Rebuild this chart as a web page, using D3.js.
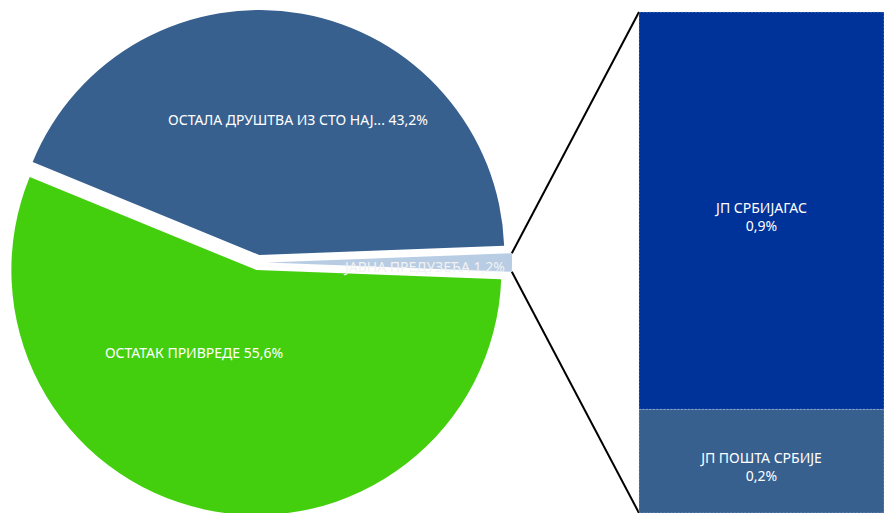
<!DOCTYPE html>
<html>
<head>
<meta charset="utf-8">
<script src="https://cdn.jsdelivr.net/npm/d3@7"></script>
<style>
  html, body { margin: 0; padding: 0; background: #ffffff; }
  svg { display: block; }
  text { font-family: "Noto Sans", "Open Sans", sans-serif; }
</style>
</head>
<body>
<svg id="chart" width="884" height="513"></svg>
<script>
// ---- data ----
const pieCategories = ["ОСТАЛА ДРУШТВА ИЗ СТО НАЈ...", "ЈАВНА ПРЕДУЗЕЋА", "ОСТАТАК ПРИВРЕДЕ"];
const pieValues = [43.2, 1.2, 55.6];
const pieColors = ["#37608F", "#B8CCE4", "#44CF0E"];
const pieExplode = [7.6, 9, 7.7];

const barCategories = ["ЈП ПОШТА СРБИЈЕ", "ЈП СРБИЈАГАС"];
const barValues = [0.24, 0.92];
const barLabels = ["0,2%", "0,9%"];
const barColors = ["#37608F", "#003399"];

// ---- layout ----
const W = 884, H = 513;
const cx = 258, cy = 262.5, R = 245;
const barX0 = 639, barX1 = 884, barTop = 12, barBottom = 513;
const FS = 14;

const svg = d3.select("#chart");
const fmt = v => d3.format(".1f")(v).replace(".", ",") + "%";

const total = d3.sum(pieValues);
const startA = Math.PI / 2 - (pieValues[0] + pieValues[1] / 2) / total * 2 * Math.PI;
const pie = d3.pie().sort(null).value(d => d).startAngle(startA).endAngle(startA + 2 * Math.PI);
const arcs = pie(pieValues);
const arc = d3.arc().innerRadius(0).outerRadius(R);

const gPie = svg.append("g").attr("transform", `translate(${cx},${cy})`);
const off = (d, i) => {
  const a = (d.startAngle + d.endAngle) / 2;
  return [pieExplode[i] * Math.sin(a), -pieExplode[i] * Math.cos(a)];
};

gPie.selectAll("path.slice").data(arcs).join("path")
  .attr("class", "slice")
  .attr("d", arc)
  .attr("fill", (d, i) => pieColors[i])
  .attr("transform", (d, i) => { const o = off(d, i); return `translate(${o[0]},${o[1]})`; });

// connector lines from the split slice to the bar
const sd = arcs[1];
const so = off(sd, 1);
const p1 = [cx + so[0] + R * Math.sin(sd.startAngle), cy + so[1] - R * Math.cos(sd.startAngle)];
const p2 = [cx + so[0] + R * Math.sin(sd.endAngle), cy + so[1] - R * Math.cos(sd.endAngle)];

// bar (stacked)
const y = d3.scaleLinear().domain([0, d3.sum(barValues)]).range([barBottom, barTop]);
const stackData = [];
let acc = 0;
barValues.forEach((v, i) => { stackData.push({ i, y0: acc, y1: acc + v }); acc += v; });

svg.append("line").attr("x1", p1[0]).attr("y1", p1[1]).attr("x2", barX0).attr("y2", y(acc))
  .attr("stroke", "#000").attr("stroke-width", 2);
svg.append("line").attr("x1", p2[0]).attr("y1", p2[1]).attr("x2", barX0).attr("y2", y(0))
  .attr("stroke", "#000").attr("stroke-width", 2);

svg.selectAll("rect.seg").data(stackData).join("rect")
  .attr("class", "seg")
  .attr("x", barX0).attr("width", barX1 - barX0)
  .attr("y", d => y(d.y1)).attr("height", d => y(d.y0) - y(d.y1))
  .attr("fill", d => barColors[d.i])
  .attr("stroke", "rgba(200,215,240,0.55)").attr("stroke-width", 0.8)
  .attr("stroke-dasharray", "2,1.5");

const bx = (barX0 + barX1) / 2;
const gBarLab = svg.selectAll("g.blab").data(stackData).join("g").attr("class", "blab");
gBarLab.append("text")
  .attr("x", bx).attr("y", d => (y(d.y0) + y(d.y1)) / 2 + 2)
  .attr("text-anchor", "middle").attr("fill", "#ffffff").attr("font-size", FS)
  .text(d => barCategories[d.i]);
gBarLab.append("text")
  .attr("x", bx).attr("y", d => (y(d.y0) + y(d.y1)) / 2 + 20)
  .attr("text-anchor", "middle").attr("fill", "#ffffff").attr("font-size", FS)
  .text(d => barLabels[d.i]);

// pie labels
svg.append("text").attr("x", 298).attr("y", 125).attr("text-anchor", "middle")
  .attr("fill", "#ffffff").attr("font-size", FS)
  .text(pieCategories[0] + " " + fmt(pieValues[0]));
svg.append("text").attr("x", 194).attr("y", 358).attr("text-anchor", "middle")
  .attr("fill", "#ffffff").attr("font-size", FS)
  .text(pieCategories[2] + " " + fmt(pieValues[2]));
svg.append("text").attr("x", 505).attr("y", 271.5).attr("text-anchor", "end")
  .attr("fill", "#F2F2F2").attr("font-size", FS)
  .text(pieCategories[1] + " " + fmt(pieValues[1]));
</script>
</body>
</html>
